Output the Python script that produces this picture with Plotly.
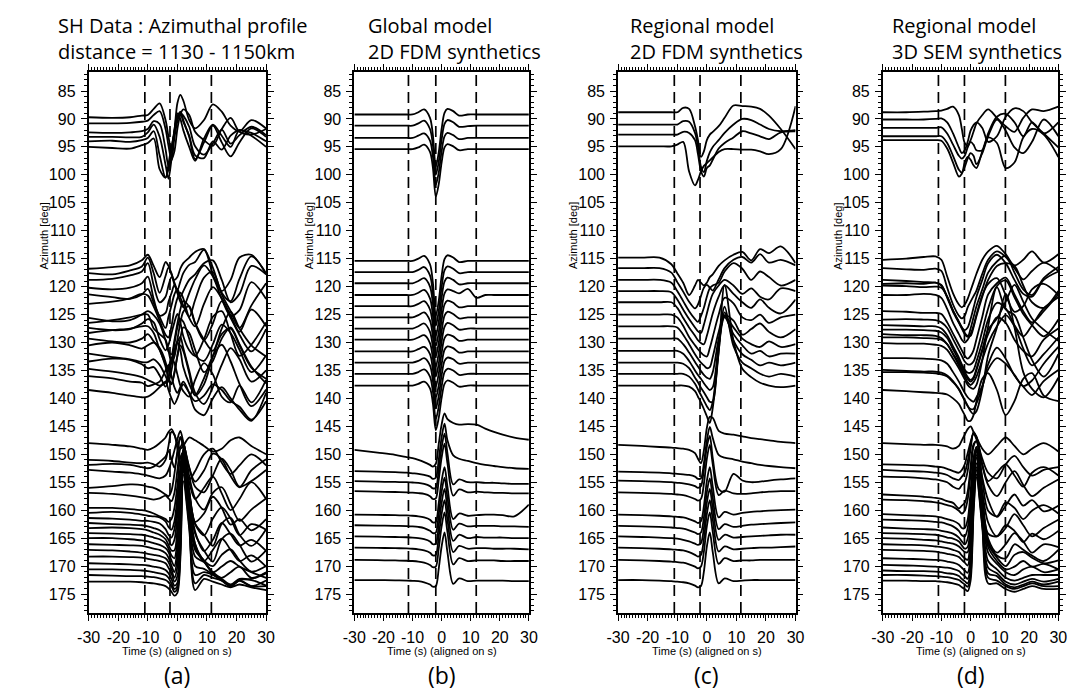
import plotly.graph_objects as go

W, H = 1077, 695

# ---------------- data ----------------
T = [-30, -22, -16, -12, -10, -8, -6, -4, -3, -2, -1, 0, 1, 2, 4, 6, 9, 12, 15, 18, 21, 25, 30]

AZ_TICKS = list(range(85, 180, 5))
TIME_TICKS = [-30, -20, -10, 0, 10, 20, 30]

PANEL_TITLES = [
    ("SH Data : Azimuthal profile", "distance = 1130 - 1150km"),
    ("Global model", "2D FDM synthetics"),
    ("Regional model", "2D FDM synthetics"),
    ("Regional model", "3D SEM synthetics"),
]
PANEL_LETTERS = ["(a)", "(b)", "(c)", "(d)"]
X_LABEL = "Time (s) (aligned on s)"
Y_LABEL = "Azimuth [deg]"
DASH_TIMES = [[-11, -2.5, 11.5], [-11.4, -2, 11.9], [-11, -2.3, 11.5], [-11, -2.1, 11.9]]

# ---- panel (a): data ----
A_TOP_BASE = [89.7, 90.8, 92.4, 93.2, 94.0, 95.0]
A_TOP = [
    [0, 0.1, 0, -0.3, -0.4, -1.5, -2.5, 0.5, 3.5, 6.0, 2.5, -2.5, -4.0, -3.0, 0.5, 2.0, 0.5, -2.3, -1.0, 1.5, 2.5, 0.5, 2.0],
    [0, 0, -0.1, -0.3, -0.5, -1.5, -2.2, 1.0, 4.0, 6.5, 5.0, 1.0, -1.5, -2.5, -1.5, 1.5, 3.0, 4.0, 1.0, -1.0, 1.5, 2.0, 1.0],
    [0, 0.1, 0, -0.2, -0.6, -2.0, -1.5, 3.0, 6.0, 5.0, 1.0, -2.0, -3.5, -3.0, -1.0, 2.5, 4.0, 2.0, -0.5, 2.0, 0.5, -1.0, 0.5],
    [0, 0, 0.1, 0, -0.8, -2.2, 0, 5.0, 7.5, 4.0, -1.0, -3.5, -4.5, -3.0, 0, 4.0, 1.0, -2.0, 1.0, 3.5, 1.0, -1.5, 0],
    [0, -0.1, 0.1, -0.2, -0.6, -1.8, 2.5, 6.5, 5.0, 1.5, -2.0, -5.0, -4.0, -2.0, 1.0, 3.5, -0.5, -3.0, -1.0, 1.0, -2.0, -1.0, 1.0],
    [0, 0.2, 0.3, -0.3, -0.7, -1.5, 4.0, 5.5, 3.0, 0, -2.5, -5.5, -6.0, -4.5, -2.0, 1.5, 2.0, -1.0, 0.5, -2.0, -3.0, -2.5, -1.0],
]
A_MID_BASE = [116.8, 117.6, 118.8, 120.2, 121.4, 123.1, 125.6, 126.5, 127.4, 128.3, 129.3, 130.5, 132.0, 133.4, 134.7, 136.0, 138.5]
A_MID = [
    [0, -0.3, -0.6, -1.5, -2.5, -0.5, 1.5, -1.2, -0.5, 1, 2, 1.5, 0, -1, -2, -3, -3.5, 1, 4, 2, -2, -2.5, 1],
    [0, 0.2, -0.5, -1.2, -2.8, 0, 3.5, 0.5, -1, 0, 2, 3, 1.5, 0, -1.5, -2, -4.2, -1, 3.5, 5, 1, -3, 0],
    [0, -0.2, -0.8, -1.5, -3, 1, 4, 3, 1, -0.5, 0.5, 2, 3, 2, 0, -1, -3, -3.5, 0, 4, 2.5, -2.5, -1],
    [0, 0.3, 0, -0.8, -2, 2, 5, 4.5, 2.5, 1, -0.5, 1, 2.5, 3.5, 1, -1.5, -4, -2, 2, 5, 4, -1, 2],
    [0, 0.5, 0.8, 0, -1, 1.5, 4, 6, 4, 2, 0, -1, 0.5, 2, 4, 1, -3, -4, 0, 3, 6, 2, -2],
    [0, -0.4, -1, -1.8, -1.5, 0.5, 3, 5.5, 6, 4, 1, -1, -2, -1, 2.5, 4, 0, -3, -1, 2, 5, 1, 4],
    [0, 0.6, 0.4, -0.6, -1.2, -0.5, 1, 4, 6, 6.5, 4, 1, -1.5, -3, -2, 1, 4, 1, -3, 0, 3, 6, 2],
    [0, -0.5, -1, -1.5, -1.5, 1, 2, 3, 5, 7, 6, 3, 0, -2, -3, 0, 3, 5, 1, -2, 1, 4, 6],
    [0, 0.4, 0.2, -0.8, -1.6, -1, 2, 4, 3, 1, -1, -2.5, -1, 1.5, 4, 5, 2, -2, -3, 1, 5, 3, -1],
    [0, -0.5, -0.8, -1.2, -1.2, 0, 3, 5.5, 6.5, 5, 2, -1, -2.5, -2, 1, 4, 5, 2, -1.5, 0, 3, 7, 4],
    [0, 0.5, 0.7, 0, -0.8, 0.5, 2, 5, 7, 8, 6, 3, 0, -2, -1, 2, 6, 4, 0, -2, 1, 5, 8],
    [0, -0.5, 0, 0.6, 0, -0.5, 0.5, 3, 6, 7, 5, 2, 0, 1, 5, 9, 7, 2, -2, -3, 0, 4, 6],
    [0, 0.6, 1, 1.5, 1.5, 1, 2, 4, 5, 3, 0, -2, -3, -1, 3, 7, 9, 6, 2, -1, 1, 5, 3],
    [0, -0.5, -0.3, 0.5, 1.2, 1, 2.5, 4.5, 3, 0, -2, -3.5, -2, 1, 4, 6, 3, -1, -3, 0, 4, 8, 5],
    [0, 0.5, 1, 1.5, 2, 2.5, 3, 2.5, 0, -2, -1, 1, 3, 4, 5, 2, -1, 1, 5, 6, 3, 6, 2],
    [0, 0.4, 1, 1.2, 1.8, 1.5, 1, -1, -2, 0, 2, 3, 2, 1, 3, 6, 7, 4, 2, 4, 6, 8, 3],
    [0, 0.5, 1, 1.3, 1.2, 0.5, -0.5, -1.5, 0, 1.5, 2.5, 1.5, 0, -1, 0.5, 2, 1, -1, 0, 2, 3, 5.3, 2],
]
A_BOT_BASE = [148.0, 151.0, 151.9, 152.8, 156.0, 156.9, 159.6, 160.5, 161.4, 162.3, 163.2, 164.1, 165.0, 166.1, 167.1, 168.3, 169.5, 170.6, 171.6, 172.8]
A_BOT = [
    [0, 0.3, 0.6, 1.0, 1.2, 0.8, 0, -1.0, -2.0, -2.5, -1.5, 0, 1.0, 0.5, -1.0, -0.5, 0.5, 1.5, 1.0, -0.5, -1.0, 0.5, 2.0],
    [0, 0.2, 0.5, 0.6, 0.5, 0.8, 1.2, 0, -2.5, -5.0, -4.5, -2.0, 0.5, 2.0, 3.5, 2.0, -1.0, -2.0, 0.5, 2.5, 1.0, -1.0, 1.0],
    [0, -0.2, 0, 0.4, 0.6, 0.3, -0.5, -1.5, -2.5, -1.0, 0.5, -2.0, -5.0, -4.0, 0.5, 3.0, 1.0, -2.0, -1.0, 2.0, 4.0, 1.0, -1.0],
    [0, 0.3, 0.5, 0.8, 1.0, 1.3, 1.5, 1.0, 0, -1.5, -3.5, -5.5, -7.0, -5.0, -0.5, 3.0, 4.0, 1.0, -2.0, 0, 3.0, 2.0, 0],
    [0, -0.3, -0.6, -0.5, -0.2, 0, 0.5, 1.2, 1.5, 0.5, -2.5, -6.5, -9.0, -7.0, -1.0, 2.0, 0, -2.0, 1.0, 4.0, 2.0, -1.0, 2.0],
    [0, 0.2, 0.5, 0.8, 1.0, 1.2, 1.0, 0.5, 1.0, 1.5, 0, -4.0, -8.0, -9.0, -3.0, 1.0, 3.0, 0, -1.0, 2.0, 5.0, 3.0, 1.0],
    [0, 0, 0.2, 0.4, 0.6, 1.0, 1.5, 2.0, 2.5, 2.0, 0, -4.0, -9.0, -10.0, -3.0, 2.5, 1.0, -2.0, 0, 3.0, 2.0, 4.0, 2.0],
    [0, -0.2, 0, 0.3, 0.5, 0.6, 0.8, 1.5, 2.5, 3.0, 1.5, -3.0, -8.0, -11.0, -4.0, 2.0, 4.0, 1.0, -1.0, 1.0, 4.0, 2.0, 3.0],
    [0, 0.1, 0.3, 0.5, 0.5, 0.7, 1.0, 2.0, 3.0, 3.5, 2.0, -2.0, -8.0, -12.0, -4.5, 1.0, 3.0, 5.0, 1.0, 0, 3.0, 5.0, 2.0],
    [0, 0.2, 0.3, 0.4, 0.6, 0.9, 1.3, 2.2, 3.0, 4.0, 3.0, -1.5, -7.5, -13.0, -5.0, 1.5, 5.0, 3.0, 0, 2.0, 4.0, 3.0, 5.0],
    [0, -0.1, 0, 0.2, 0.4, 0.8, 1.2, 2.0, 3.0, 4.0, 4.0, 0, -7.0, -14.0, -5.5, 1.0, 4.0, 6.0, 2.0, 1.0, 3.0, 6.0, 4.0],
    [0, 0.1, 0.2, 0.3, 0.5, 0.8, 1.1, 1.8, 2.8, 4.0, 4.5, 1.0, -6.5, -15.0, -6.0, 2.0, 5.0, 3.0, 1.0, 3.0, 5.0, 4.0, 6.0],
    [0, 0, 0.2, 0.4, 0.6, 0.9, 1.2, 1.8, 2.5, 4.0, 5.0, 2.0, -6.0, -15.5, -6.5, 1.0, 4.0, 5.0, 3.0, 2.0, 4.0, 6.0, 5.0],
    [0, 0.1, 0.2, 0.3, 0.5, 0.8, 1.0, 1.6, 2.4, 3.8, 5.0, 2.5, -5.5, -16.0, -7.0, 0.5, 3.0, 5.0, 4.0, 3.0, 4.0, 5.0, 6.0],
    [0, 0.1, 0.3, 0.5, 0.7, 0.9, 1.1, 1.5, 2.2, 3.5, 5.0, 3.0, -5.0, -16.5, -7.0, 0, 2.0, 4.0, 5.0, 4.0, 3.0, 5.0, 4.0],
    [0, 0, 0.1, 0.2, 0.4, 0.6, 0.8, 1.2, 2.0, 3.0, 4.5, 3.5, -4.5, -17.0, -7.5, 0, 1.0, 3.0, 4.0, 5.0, 4.0, 4.0, 3.0],
    [0, 0.1, 0.2, 0.3, 0.4, 0.6, 0.8, 1.2, 1.8, 2.8, 4.0, 3.5, -4.0, -17.5, -8.0, 0.5, 1.0, 2.0, 3.0, 4.0, 3.0, 3.0, 4.0],
    [0, 0, 0.1, 0.2, 0.3, 0.5, 0.7, 1.0, 1.5, 2.5, 3.5, 3.0, -4.0, -18.0, -8.5, 1.0, 0.5, 1.0, 2.0, 3.0, 2.0, 3.0, 2.0],
    [0, 0.1, 0.2, 0.2, 0.3, 0.4, 0.6, 0.9, 1.3, 2.0, 3.0, 2.5, -4.0, -18.0, -9.0, 1.5, 0, 0.5, 1.0, 2.0, 1.0, 2.0, 2.0],
    [0, 0, 0, 0.1, 0.2, 0.3, 0.5, 0.8, 1.2, 1.8, 2.5, 2.0, -4.0, -18.0, -9.5, 1.5, -0.5, 0, 0.5, 1.0, 0.5, 1.0, 1.5],
]

# ---- panel (b): data ----
B_TOP_BASE = [89.2, 91.2, 93.4, 95.4]
B_TOP = [
    [0, 0, 0, 0, 0, -0.4, -0.9, 0.6, 3.7, 9.3, 6.8, 2.6, -0.3, -1.0, -0.6, 0.2, 0, 0, 0, 0, 0, 0, 0],
    [0, 0, 0, 0, 0, -0.4, -0.9, 0.6, 3.5, 8.8, 6.5, 2.5, -0.3, -1.0, -0.6, 0.2, 0.1, 0, 0, 0, 0, 0, 0],
    [0, 0, 0, 0, 0, -0.4, -0.8, 0.5, 3.3, 8.4, 6.2, 2.4, -0.3, -0.9, -0.5, 0.2, 0, 0, 0, 0, 0, 0, 0],
    [0, 0, 0, 0, 0, -0.3, -0.8, 0.5, 3.3, 8.5, 6.3, 2.4, -0.3, -0.9, -0.5, 0.2, 0, 0, 0, 0, 0, 0, 0],
]
B_MID_BASE = [115.4, 117.4, 119.4, 121.5, 123.5, 125.5, 127.5, 129.5, 131.6, 133.6, 135.6, 137.7]
B_MID = [
    [0, 0, 0, 0, 0, -0.4, -0.9, 0.6, 3.9, 9.8, 7.2, 2.7, -0.3, -1.0, -0.6, 0.2, 0, 0, 0, 0, 0, 0, 0],
    [0, 0, 0, 0, 0, -0.4, -0.9, 0.6, 3.8, 9.6, 7.0, 2.7, -0.3, -1.0, -0.6, 0.2, 0, 0, 0, 0, 0, 0, 0],
    [0, 0, 0, 0, 0, -0.4, -0.9, 0.6, 3.7, 9.4, 6.9, 2.6, -0.3, -1.0, -0.6, 0.2, 0, 0, 0, 0, 0, 0, 0],
    [0, 0, 0, 0, 0, -0.4, -0.9, 0.6, 3.7, 9.2, 6.7, 2.6, -0.3, -1.0, -0.7, -0.3, -1.1, 0.5, 0, 0, 0, 0, 0],
    [0, 0, 0, 0, 0, -0.4, -0.9, 0.6, 3.6, 9.0, 6.6, 2.5, -0.3, -1.0, -0.6, 0.2, 0, 0, 0, 0, 0, 0, 0],
    [0, 0, 0, 0, 0, -0.4, -0.9, 0.6, 3.5, 8.8, 6.4, 2.5, -0.3, -1.0, -0.6, 0.2, 0, 0, 0, 0, 0, 0, 0],
    [0, 0, 0, 0, 0, -0.4, -0.9, 0.6, 3.4, 8.6, 6.3, 2.4, -0.3, -1.0, -0.6, 0.2, 0, 0, 0, 0, 0, 0, 0],
    [0, 0, 0, 0, 0, -0.4, -0.8, 0.6, 3.4, 8.4, 6.1, 2.4, -0.3, -0.9, -0.6, 0.2, 0, 0, 0, 0, 0, 0, 0],
    [0, 0, 0, 0, 0, -0.4, -0.8, 0.5, 3.3, 8.3, 6.1, 2.3, -0.3, -0.9, -0.6, 0.2, 0, 0, 0, 0, 0, 0, 0],
    [0, 0, 0, 0, 0, -0.3, -0.8, 0.5, 3.3, 8.2, 6.0, 2.3, -0.3, -0.9, -0.6, 0.2, 0, 0, 0, 0, 0, 0, 0],
    [0, 0, 0, 0, 0, -0.3, -0.8, 0.5, 3.2, 8.1, 5.9, 2.3, -0.3, -0.9, -0.6, 0.2, 0, 0, 0, 0, 0, 0, 0],
    [0, 0, 0, 0, 0, -0.3, -0.7, 0.5, 3.2, 8.0, 5.8, 2.2, -0.3, -0.9, -0.5, 0.2, 0, 0, 0, 0, 0, 0, 0],
]
B_BOT_BASE = [149.2, 153.0, 154.8, 156.6, 160.8, 162.7, 164.7, 166.7, 168.9, 172.5]
B_BOT = [
    [0, 0.5, 0.9, 1.3, 1.5, 1.8, 2.2, 2.7, 3.0, 2.5, -1.0, -4.5, -6.5, -5.5, -4.8, -4.5, -4.6, -4.5, -3.8, -3.2, -2.7, -2.2, -1.8],
    [0, 0.1, 0.2, 0.3, 0.4, 0.5, 0.7, 1.0, 1.4, 1.2, -2.0, -6.0, -8.5, -5.5, -2.8, -2.2, -1.8, -1.4, -1.1, -0.9, -0.7, -0.5, -0.4],
    [0, 0.1, 0.15, 0.2, 0.25, 0.3, 0.5, 0.9, 1.3, 1.2, -2.0, -6.0, -8.5, -5.0, 0.6, -0.3, 0.2, 0.2, 0.3, 0.3, 0.4, 0.5, 0.5],
    [0, 0.1, 0.15, 0.2, 0.25, 0.35, 0.5, 0.9, 1.4, 1.3, -2.0, -6.0, -8.5, -5.0, 0.8, -0.3, 0.2, 0.1, 0.2, 0.3, 0.3, 0.4, 0.4],
    [0, 0.05, 0.1, 0.15, 0.2, 0.3, 0.5, 0.9, 1.4, 1.3, -2.0, -6.0, -8.5, -5.0, 0.8, -0.2, 0.2, 0.1, 0, 0, 0.1, 0.3, -1.8],
    [0, 0.05, 0.1, 0.15, 0.2, 0.3, 0.5, 1.0, 1.4, 1.3, -2.0, -6.0, -8.5, -5.0, 0.8, -0.3, 0.2, 0.1, 0.1, 0.1, 0.2, 0.2, 0.3],
    [0, 0.05, 0.1, 0.15, 0.2, 0.3, 0.5, 0.9, 1.4, 1.3, -2.0, -6.0, -8.5, -5.0, 0.8, -0.3, 0.3, 0.1, 0.2, 0.2, 0.2, 0.3, 0.3],
    [0, 0.05, 0.1, 0.15, 0.2, 0.3, 0.5, 0.9, 1.4, 1.3, -2.0, -6.0, -8.5, -5.0, 0.8, -0.3, 0.2, 0.1, 0.1, 0.2, 0.2, 0.2, 0.3],
    [0, 0.05, 0.1, 0.15, 0.2, 0.3, 0.5, 0.9, 1.3, 1.2, -2.0, -6.0, -8.5, -5.0, 0.8, -0.3, 0.2, 0.1, 0.1, 0.1, 0.2, 0.2, 0.2],
    [0, 0, 0.05, 0.1, 0.15, 0.2, 0.4, 0.8, 1.2, 1.1, -2.0, -6.0, -8.5, -5.0, 0.7, -0.3, 0.2, 0.1, 0.1, 0.1, 0.1, 0.2, 0.2],
]

# ---- panel (c): data ----
C_TOP_BASE = [88.8, 91.0, 92.8, 94.9]
C_TOP = [
    [0, 0, 0, 0, 0, -0.8, -0.6, 2.5, 5.0, 8.0, 7.0, 5.0, 4.0, 3.5, 2.5, 1.0, -1.2, -1.1, -1.0, -0.6, 0.6, 3.0, 6.6],
    [0, 0, 0, 0, 0, -0.6, -0.5, 1.5, 4.0, 7.5, 8.5, 6.5, 5.0, 4.0, 2.8, 1.5, 0, -1.0, -0.8, 0, 0.8, 1.2, 1.0],
    [0, 0, 0, 0, 0, -0.5, -0.3, 1.0, 3.5, 6.5, 7.5, 6.0, 5.5, 4.5, 2.5, 1.5, 0.5, -0.6, -0.2, 0.3, 0.8, -0.4, -0.6],
    [0, 0, 0, 0, -0.3, -0.8, 4.5, 7.0, 6.0, 4.5, 3.5, 3.0, 2.5, 2.0, 1.0, 0.5, 0.5, 0.6, 0.6, 0.9, 1.4, 0.5, -7.2],
]
C_MID_BASE = [114.8, 116.7, 118.8, 120.8, 122.8, 125.0, 127.1, 129.3, 131.5, 133.6, 135.6, 137.7]
C_MID = [
    [0, 0, 0, 1.2, 2.8, 4.5, 6.7, 5.0, 4.0, 4.5, 5.0, 4.5, 3.5, 3.0, 1.5, 0.5, -0.5, -1.0, 0.5, -1.5, -0.8, -2.0, 1.0],
    [0, 0, 0, 0.8, 2.5, 4.2, 6.0, 7.2, 6.5, 5.0, 3.5, 3.0, 3.5, 4.0, 2.0, 0, -1.5, -2.0, -1.0, -2.5, -1.0, -1.5, -0.5],
    [0, 0, 0, 0.5, 2.0, 3.8, 5.6, 7.0, 7.5, 6.5, 5.0, 3.0, 1.5, 1.0, 0.5, -1.5, -3.0, -2.0, 0, -1.5, -0.5, 1.0, 0],
    [0, 0, 0, 0.2, 1.5, 3.3, 5.0, 6.5, 7.2, 7.5, 6.0, 4.0, 2.0, 0.5, -1.0, -2.0, -1.0, 0.5, -0.5, 1.0, 1.5, -0.5, 0],
    [0, 0, 0, 0, 1.0, 2.8, 4.5, 6.0, 6.8, 7.3, 7.5, 6.0, 4.0, 2.0, -1.0, -3.0, -1.5, 0, 1.0, -0.5, 1.0, 2.0, -0.5],
    [0, 0, 0, 0, 0.5, 2.0, 4.0, 5.5, 6.2, 6.8, 7.3, 7.5, 6.0, 4.0, 0, -3.0, -2.0, 0.5, 1.0, 0, 1.5, 0.5, 0],
    [0, 0, 0, 0, 0.2, 1.5, 3.2, 5.0, 5.8, 6.5, 7.0, 7.5, 7.3, 5.5, 1.0, -2.0, -1.0, 1.5, 0.5, -0.5, 1.0, 2.0, 0.5],
    [0, 0, 0, 0, 0, 1.0, 2.5, 4.2, 5.0, 5.8, 6.5, 7.0, 7.2, 6.0, 0, -4.0, -2.0, 0, 1.0, 1.5, 0.5, 1.5, 1.0],
    [0, 0, 0, 0, 0, 0.5, 1.8, 3.5, 4.3, 5.0, 5.8, 6.5, 7.0, 6.5, -1.0, -6.0, -3.0, -1.0, 0.5, 0, 1.0, 0.5, 0.5],
    [0, 0, 0, 0, 0, 0.2, 1.0, 2.7, 3.5, 4.5, 5.3, 6.2, 7.0, 7.0, -3.0, -9.0, -4.0, -1.5, -0.5, 0.5, 0, 0.5, 0],
    [0, 0, 0, 0, 0, 0, 0.5, 1.8, 2.8, 3.8, 4.8, 5.8, 6.5, 5.0, -4.0, -12.0, -5.0, -2.0, -1.0, 0, 0.5, 0, 0.5],
    [0, 0, 0, 0, 0, 0, 0.2, 1.0, 2.0, 3.0, 4.2, 5.5, 6.7, 4.0, -6.0, -18.0, -8.0, -3.0, -1.5, -0.5, 0, 0.3, 0],
]
C_BOT_BASE = [148.3, 153.1, 154.7, 156.8, 160.8, 162.8, 164.7, 166.7, 168.9, 172.5]
C_BOT = [
    [0, 0.2, 0.4, 0.5, 0.6, 0.7, 0.9, 1.5, 2.5, 3.3, 1.0, -3.0, -5.0, -4.8, -2.5, -2.0, -1.8, -1.5, -1.2, -1.0, -0.8, -0.5, -0.3],
    [0, 0.1, 0.2, 0.3, 0.4, 0.5, 0.6, 0.9, 1.3, 1.2, -1.5, -5.5, -8.0, -6.0, -3.0, -2.5, -2.2, -1.8, -1.5, -1.2, -1.0, -0.8, -0.6],
    [0, 0.1, 0.2, 0.3, 0.4, 0.5, 0.7, 1.0, 1.3, 1.0, -2.0, -6.0, -8.0, -4.0, 1.5, 2.0, -1.2, 0, 0.3, 0.2, 0, -0.2, -0.4],
    [0, 0.1, 0.2, 0.3, 0.4, 0.5, 0.8, 1.2, 1.5, 1.2, -1.5, -6.0, -8.5, -5.0, 0.5, -0.3, 0.2, 0.3, 0.2, 0, -0.1, -0.2, -0.2],
    [0, 0.1, 0.2, 0.3, 0.4, 0.5, 0.8, 1.2, 1.5, 1.2, -1.5, -6.0, -8.5, -5.0, 0.5, -0.5, 0, -0.3, -0.5, -0.6, -0.7, -0.8, -0.9],
    [0, 0.1, 0.2, 0.3, 0.4, 0.5, 0.8, 1.2, 1.5, 1.2, -1.5, -6.0, -8.5, -5.0, 0.6, -0.3, 0.2, 0, -0.2, -0.3, -0.4, -0.5, -0.6],
    [0, 0.1, 0.2, 0.3, 0.4, 0.6, 0.9, 1.3, 1.5, 1.2, -1.5, -6.0, -8.5, -5.0, 0.6, -0.3, 0.2, 0.1, 0, -0.1, -0.2, -0.3, -0.3],
    [0, 0.1, 0.2, 0.3, 0.4, 0.5, 0.8, 1.3, 1.6, 1.3, -1.5, -6.0, -8.5, -5.0, 0.7, -0.2, 0.3, 0.2, 0.1, 0, 0, -0.1, -0.2],
    [0, 0.1, 0.2, 0.3, 0.4, 0.5, 0.8, 1.2, 1.5, 1.2, -1.5, -6.0, -8.5, -5.0, 0.7, -0.3, 0.2, 0.1, 0.1, 0, 0, 0, 0],
    [0, 0, 0.1, 0.2, 0.3, 0.4, 0.6, 1.0, 1.3, 1.1, -1.5, -6.0, -8.5, -5.0, 0.6, -0.3, 0.2, 0.1, 0, 0, 0, 0, 0],
]

# ---- panel (d): data ----
D_TOP_BASE = [88.8, 90.1, 91.6, 93.1, 93.8]
D_TOP = [
    [0, 0, -0.1, -0.2, -0.3, -0.6, -1.0, 0.5, 3.0, 5.5, 6.0, 5.0, 3.5, 2.0, 0.5, -0.5, 1.0, 2.5, 3.5, 1.0, -0.5, -0.2, -1.0],
    [0, 0, 0, -0.1, -0.2, 0.5, 2.5, 5.0, 6.0, 5.5, 4.0, 2.0, 1.0, 0.5, 1.5, 4.0, 3.0, -0.5, -2.0, -1.5, 0.5, 2.5, 5.0],
    [0, 0, 0, 0, -0.1, 1.0, 3.0, 5.0, 5.5, 5.0, 3.5, 2.5, 3.0, 4.0, 4.0, 1.0, -2.0, -2.5, -1.0, 1.5, -1.0, 1.0, -1.0],
    [0, 0, 0, 0, 0, 1.2, 3.5, 6.0, 6.5, 5.5, 4.0, 3.0, 3.5, 5.0, 3.0, 0, -3.0, -1.0, 2.0, 3.0, 1.0, -3.0, 0],
    [0, 0, 0, 0, 0.1, 1.5, 4.0, 6.5, 6.0, 4.0, 3.0, 3.5, 4.5, 5.0, 2.0, -0.5, 0.5, 5.0, 4.0, -0.5, -2.0, -1.0, 3.0],
]
D_MID_BASE = [115.2, 116.7, 118.8, 119.5, 119.8, 121.5, 124.4, 125.9, 126.9, 127.7, 128.5, 129.1, 130.1, 132.8, 134.9, 135.3, 138.5]
D_MID = [
    [0, -0.2, -0.5, -0.6, 0, 3.0, 6.0, 8.0, 8.5, 8.0, 7.0, 5.5, 4.0, 2.5, 0, -1.5, -2.5, -1.0, 1.0, 0, -1.5, 0.5, -1.0],
    [0, 0.2, 0.3, 0.1, 0.5, 3.5, 6.5, 8.5, 9.0, 8.5, 7.0, 6.0, 5.0, 4.0, 1.0, -1.5, -3.0, -2.0, 0, 2.0, 0.5, -1.0, 0.5],
    [0, 0.2, 0.4, 0.5, 1.0, 3.0, 5.5, 7.5, 8.5, 9.0, 8.5, 7.0, 5.0, 3.0, 0, -3.0, -4.5, -3.0, 0, 2.5, 3.0, 0, -1.5],
    [0, -0.1, 0, -0.2, 0.2, 2.5, 5.0, 7.0, 8.0, 9.0, 9.5, 8.0, 6.0, 4.0, 1.0, -2.0, -4.0, -5.0, -2.0, 1.0, 2.0, -1.0, -3.0],
    [0, 0.1, 0.3, 0.2, 0.4, 2.0, 4.5, 6.5, 7.5, 8.5, 9.0, 9.0, 7.5, 5.5, 2.0, -1.0, -3.5, -4.0, -3.5, 0, 3.0, 4.0, 1.0],
    [0, 0, -0.2, 0, 0.5, 2.5, 5.0, 7.0, 8.0, 8.5, 8.0, 7.0, 5.5, 3.5, 0, -2.0, -3.0, 0, 3.0, 2.0, -1.0, -2.0, 0],
    [0, 0.1, 0.3, 0.3, 0.5, 2.0, 4.0, 6.0, 7.0, 8.0, 8.5, 8.0, 7.0, 5.0, 1.0, -3.0, -5.0, -6.0, -3.0, 0, 2.0, 0, -3.0],
    [0, -0.1, 0, 0.1, 0.5, 1.5, 3.5, 5.5, 6.5, 7.5, 8.0, 8.0, 7.5, 6.0, 2.0, -2.0, -6.0, -7.0, -4.0, -1.0, 1.0, 3.0, 0],
    [0, 0.1, 0.2, 0.2, 0.6, 1.8, 3.8, 5.8, 7.0, 8.0, 8.5, 8.5, 8.0, 6.5, 3.0, -1.0, -4.0, -3.0, 0, 2.0, 0, -3.0, -5.0],
    [0, 0, 0.1, 0.2, 0.5, 1.5, 3.5, 5.5, 6.5, 7.5, 8.5, 9.0, 8.5, 7.0, 3.5, 0, -2.0, -5.0, -8.0, -5.0, -2.0, 0, 2.0],
    [0, 0.2, 0.2, 0.3, 0.7, 1.8, 3.5, 5.2, 6.2, 7.2, 8.0, 8.5, 8.0, 6.5, 3.0, 0, -3.0, -2.0, 1.0, 3.0, 4.0, 1.0, -1.0],
    [0, 0, 0.1, 0.2, 0.4, 1.2, 3.0, 5.0, 6.0, 7.0, 8.0, 8.5, 8.0, 7.0, 4.0, 1.0, -2.0, -4.0, -2.0, 2.0, 5.0, 3.0, 0],
    [0, 0.1, 0.1, 0.3, 0.5, 1.2, 2.8, 4.5, 5.5, 6.5, 7.5, 8.0, 8.2, 7.5, 3.0, -3.0, -10.0, -6.0, -5.0, -1.0, 3.0, 6.0, 2.0],
    [0, 0, 0.1, 0.2, 0.4, 1.0, 2.5, 4.2, 5.2, 6.2, 7.0, 7.5, 7.8, 7.0, 5.0, 2.0, 0, 1.0, 3.0, 5.0, 4.0, 1.0, -2.0],
    [0, 0.2, 0.3, 0.3, 0.5, 1.0, 2.0, 3.5, 4.5, 5.5, 6.5, 7.0, 7.0, 6.0, 3.0, -1.0, -4.0, -2.0, 1.0, 3.0, 4.5, 2.0, 0],
    [0, 0, 0.1, 0.2, 0.4, 0.8, 1.8, 3.0, 4.0, 5.0, 6.0, 7.0, 7.5, 7.0, 3.0, -3.0, -8.0, -14.0, -8.0, 0, 3.0, 4.5, 1.0],
    [0, 0.2, 0.4, 0.5, 0.6, 0.8, 1.5, 2.5, 3.5, 4.5, 5.5, 5.5, 4.5, 2.0, -2.0, -3.0, 0, 4.5, 2.0, -2.0, -3.0, 1.0, 2.0],
]
D_BOT_BASE = [148.0, 151.8, 152.8, 154.0, 157.2, 158.1, 160.7, 161.7, 163.1, 164.1, 165.0, 166.1, 167.1, 168.6, 169.8, 170.8, 171.6, 172.6]
D_BOT = [
    [0, 0.2, 0.3, 0.3, 0.4, 0.6, 1.0, 0.5, -0.5, -1.5, -2.5, -3.0, -2.0, -1.0, 1.0, 2.0, 0.5, -1.0, 0.5, 2.0, 1.0, 0, 1.5],
    [0, 0.1, 0.2, 0.4, 0.5, 0.8, 1.2, 1.5, 1.0, 0, -2.0, -4.0, -5.5, -4.5, -1.0, 1.5, 2.5, 0, -1.5, 0.5, 2.0, 1.0, 0.5],
    [0, 0.2, 0.3, 0.5, 0.6, 0.9, 1.5, 1.8, 1.2, 0.5, -1.5, -4.5, -6.5, -6.0, -1.0, 2.0, 0.5, -1.0, 1.0, 3.0, 0.5, -0.5, 1.0],
    [0, 0.1, 0.3, 0.5, 0.7, 1.0, 1.8, 2.2, 1.5, 1.0, -1.0, -5.0, -8.0, -7.0, -2.0, 1.5, 3.5, 1.0, -1.0, 1.5, 3.5, 2.0, 0.5],
    [0, 0.2, 0.4, 0.6, 0.8, 1.2, 1.5, 2.5, 2.0, 1.5, -0.5, -5.0, -9.0, -9.5, -3.0, 1.0, 4.0, 2.0, 0, 2.0, 1.0, 3.0, 2.0],
    [0, 0.1, 0.3, 0.5, 0.7, 1.0, 1.3, 2.0, 2.5, 2.0, 0, -4.5, -9.5, -10.5, -3.5, 2.0, 3.0, 0.5, 1.5, 3.5, 2.0, 1.0, 2.5],
    [0, 0.2, 0.3, 0.4, 0.6, 0.9, 1.2, 1.8, 2.5, 2.5, 1.0, -4.0, -10.0, -12.0, -4.0, 1.5, 4.0, 2.5, 0, 2.0, 4.0, 2.5, 1.0],
    [0, 0.1, 0.2, 0.4, 0.5, 0.8, 1.2, 2.0, 2.8, 3.0, 1.5, -3.5, -10.5, -13.0, -4.5, 2.5, 3.0, 1.0, 2.0, 4.0, 2.5, 3.5, 2.0],
    [0, 0.2, 0.3, 0.4, 0.6, 0.8, 1.1, 1.8, 2.5, 3.0, 2.0, -3.0, -11.0, -14.0, -5.0, 2.0, 4.5, 3.0, 1.0, 2.5, 4.5, 3.0, 3.5],
    [0, 0.1, 0.2, 0.3, 0.5, 0.8, 1.0, 1.5, 2.2, 2.8, 2.5, -2.5, -11.0, -15.0, -5.5, 1.5, 4.0, 4.5, 2.0, 3.0, 4.0, 5.0, 3.0],
    [0, 0.1, 0.3, 0.4, 0.6, 0.8, 1.0, 1.5, 2.0, 2.5, 2.5, -2.0, -11.5, -15.5, -6.0, 1.0, 3.5, 5.0, 3.0, 2.5, 3.5, 4.5, 4.0],
    [0, 0.1, 0.2, 0.4, 0.5, 0.7, 1.0, 1.4, 2.0, 2.5, 2.8, -1.5, -11.5, -16.0, -6.5, 0.5, 3.0, 4.5, 4.0, 3.0, 4.0, 3.5, 4.5],
    [0, 0.1, 0.2, 0.3, 0.5, 0.7, 0.9, 1.3, 1.8, 2.3, 2.8, -1.0, -12.0, -16.5, -7.0, 0.5, 2.5, 4.0, 4.5, 3.5, 3.0, 4.0, 3.5],
    [0, 0.1, 0.2, 0.3, 0.4, 0.6, 0.8, 1.2, 1.7, 2.2, 2.6, -0.5, -12.0, -17.0, -7.5, 0.5, 2.0, 3.5, 4.0, 3.5, 3.0, 3.0, 3.0],
    [0, 0.1, 0.2, 0.3, 0.4, 0.5, 0.7, 1.1, 1.6, 2.0, 2.5, 0, -12.0, -17.5, -8.0, 0.5, 1.5, 3.0, 3.5, 3.0, 2.5, 3.0, 2.5],
    [0, 0.1, 0.1, 0.2, 0.3, 0.5, 0.6, 1.0, 1.5, 1.9, 2.3, 0, -12.0, -18.0, -8.5, 0.5, 1.0, 2.5, 3.0, 2.5, 2.0, 2.5, 2.0],
    [0, 0, 0.1, 0.2, 0.3, 0.4, 0.6, 0.9, 1.3, 1.7, 2.1, 0, -12.0, -18.0, -9.0, 0.5, 1.0, 2.0, 2.5, 2.0, 1.5, 2.0, 2.0],
    [0, 0, 0.1, 0.1, 0.2, 0.3, 0.5, 0.8, 1.2, 1.5, 1.9, 0, -12.0, -18.5, -9.5, 0.5, 0.5, 1.5, 2.0, 1.5, 1.0, 1.5, 1.5],
]

PANEL_GROUPS = [
    [(A_TOP_BASE, A_TOP), (A_MID_BASE, A_MID), (A_BOT_BASE, A_BOT)],
    [(B_TOP_BASE, B_TOP), (B_MID_BASE, B_MID), (B_BOT_BASE, B_BOT)],
    [(C_TOP_BASE, C_TOP), (C_MID_BASE, C_MID), (C_BOT_BASE, C_BOT)],
    [(D_TOP_BASE, D_TOP), (D_MID_BASE, D_MID), (D_BOT_BASE, D_BOT)],
]

# ---------------- layout (pixels) ----------------
FRAME_L = [70, 341, 610, 880]
FRAME_R = [251, 519, 791, 1059]
FRAME_T, FRAME_B = 64, 605
Y_RANGE = [178.4, 81.6]
TITLE_X = [37, 353, 620, 887]

TICK_FONT = dict(family="Liberation Sans, Arial, sans-serif", size=16, color="black")
TITLE_FONT = dict(family="Open Sans, sans-serif", size=20, color="black")
SMALL_FONT = dict(family="Liberation Sans, Arial, sans-serif", size=11, color="black")

fig = go.Figure()

for p in range(4):
    sfx = "" if p == 0 else str(p + 1)
    for bases, rows in PANEL_GROUPS[p]:
        for b, row in zip(bases, rows):
            fig.add_trace(go.Scatter(
                x=T, y=[b + d for d in row], mode="lines",
                line=dict(color="black", width=1.8, shape="spline", smoothing=0.9),
                xaxis="x" + sfx, yaxis="y" + sfx, showlegend=False, hoverinfo="skip",
            ))
    for t in DASH_TIMES[p]:
        fig.add_shape(type="line", xref="x" + sfx, yref="y" + sfx + " domain",
                      x0=t, x1=t, y0=0, y1=1,
                      line=dict(color="black", width=1.7, dash="11px,6px"))

    xdom = [FRAME_L[p] / W, FRAME_R[p] / W]
    ydom = [1 - FRAME_B / H, 1 - FRAME_T / H]
    fig.layout["xaxis" + sfx] = dict(
        domain=xdom, range=[-30, 30], anchor="y" + sfx,
        tickmode="array", tickvals=TIME_TICKS, ticktext=[str(v) for v in TIME_TICKS],
        ticks="outside", ticklen=6, tickwidth=1.2, tickcolor="black",
        minor=dict(dtick=1, tick0=0, ticks="outside", ticklen=3, tickwidth=0.8, tickcolor="black"),
        showline=True, linecolor="black", linewidth=1.8, mirror="allticks",
        showgrid=False, zeroline=False, tickfont=TICK_FONT, ticklabelstandoff=3,
    )
    fig.layout["yaxis" + sfx] = dict(
        domain=ydom, range=Y_RANGE, anchor="x" + sfx,
        tickmode="array", tickvals=AZ_TICKS, ticktext=[str(v) for v in AZ_TICKS],
        ticks="outside", ticklen=6, tickwidth=1.2, tickcolor="black",
        minor=dict(dtick=1, tick0=0, ticks="outside", ticklen=3, tickwidth=0.8, tickcolor="black"),
        showline=True, linecolor="black", linewidth=1.8, mirror="allticks",
        showgrid=False, zeroline=False, tickfont=TICK_FONT, ticklabelstandoff=2,
    )

    cx = (FRAME_L[p] + FRAME_R[p]) / 2 / W
    fig.add_annotation(x=TITLE_X[p] / W, y=1 - 17 / H, xref="paper", yref="paper",
                       text=PANEL_TITLES[p][0], showarrow=False, xanchor="left", yanchor="middle",
                       font=TITLE_FONT)
    fig.add_annotation(x=TITLE_X[p] / W, y=1 - 43 / H, xref="paper", yref="paper",
                       text=PANEL_TITLES[p][1], showarrow=False, xanchor="left", yanchor="middle",
                       font=TITLE_FONT)
    fig.add_annotation(x=cx, y=1 - 643 / H, xref="paper", yref="paper", text=X_LABEL,
                       showarrow=False, xanchor="center", yanchor="middle", font=SMALL_FONT)
    fig.add_annotation(x=cx, y=1 - 667 / H, xref="paper", yref="paper", text=PANEL_LETTERS[p],
                       showarrow=False, xanchor="center", yanchor="middle",
                       font=dict(family="Open Sans, sans-serif", size=23, color="black"))
    fig.add_annotation(x=(FRAME_L[p] - 46) / W, y=1 - 228 / H, xref="paper", yref="paper",
                       text=Y_LABEL, textangle=-90, showarrow=False,
                       xanchor="center", yanchor="middle", font=SMALL_FONT)

fig.update_layout(
    width=W, height=H, margin=dict(l=0, r=0, t=0, b=0),
    paper_bgcolor="white", plot_bgcolor="white",
)

fig.write_html("out.html")
